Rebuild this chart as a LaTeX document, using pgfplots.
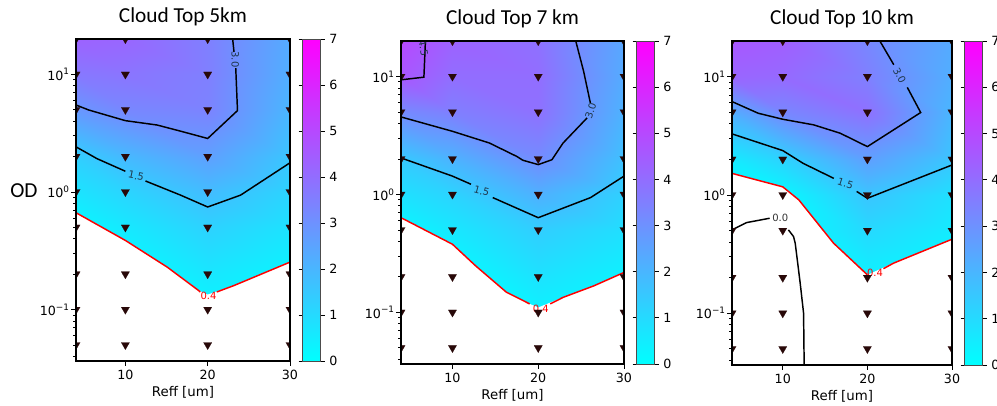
\documentclass[border=0pt]{standalone}
\usepackage{fontspec}
\setmainfont{DejaVu Sans}
\newfontfamily\carlito{Carlito}
\usepackage{pgfplots}
\usepackage{pgfplotstable}
\pgfplotsset{compat=1.18}

\definecolor{mk}{RGB}{40,8,8}
\definecolor{lbl}{RGB}{30,55,75}

\pgfplotstableread{
x y v
4 0.0365 0
10 0.0365 0
20 0.0365 0
30 0.0365 0
4 0.05 0
10 0.05 0
20 0.05 0
30 0.05 0
4 0.1 0
10 0.1 0
20 0.1 0.21
30 0.1 0
4 0.2 0
10 0.2 0
20 0.2 0.66
30 0.2 0.27
4 0.5 0.16
10 0.5 0.61
20 0.5 1.25
30 0.5 0.79
4 1 0.75
10 1 1.16
20 1 1.83
30 1 1.18
4 2 1.34
10 2 1.91
20 2 2.6
30 2 1.57
4 5 2.83
10 5 3.28
20 5 3.4
30 5 2.0
4 10 3.7
10 10 3.8
20 10 3.5
30 10 2.2
4 20 4.3
10 20 4.2
20 20 3.5
30 20 2.3
}\gridA

\pgfplotstableread{
x y v
4 0.0365 0
10 0.0365 0
20 0.0365 0
30 0.0365 0
4 0.05 0
10 0.05 0
20 0.05 0
30 0.05 0
4 0.1 0
10 0.1 0
20 0.1 0.34
30 0.1 0
4 0.2 0
10 0.2 0
20 0.2 0.78
30 0.2 0.35
4 0.5 0.17
10 0.5 0.63
20 0.5 1.35
30 0.5 0.89
4 1 0.83
10 1 1.2
20 1 2.16
30 1 1.29
4 2 1.48
10 2 2.08
20 2 3.16
30 2 1.7
4 5 3.2
10 5 3.5
20 5 3.9
30 5 2.1
4 10 4.63
10 10 4.0
20 10 4.0
30 10 2.3
4 20 5.0
10 20 4.3
20 20 3.9
30 20 2.4
}\gridB

\pgfplotstableread{
x y v
4 0.0365 0
10 0.0365 0
20 0.0365 0
30 0.0365 0
4 0.05 0
10 0.05 0
20 0.05 0
30 0.05 0
4 0.1 0
10 0.1 0
20 0.1 0.1
30 0.1 0
4 0.2 0
10 0.2 0
20 0.2 0.36
30 0.2 0
4 0.5 0
10 0.5 0
20 0.5 1.04
30 0.5 0.53
4 1 0.1
10 1 0.19
20 1 1.6
30 1 0.85
4 2 0.59
10 2 1.23
20 2 2.63
30 2 1.58
4 5 2.28
10 5 3.3
20 5 3.9
30 5 2.0
4 10 4.2
10 10 4.1
20 10 3.5
30 10 2.2
4 20 4.6
10 20 4.4
20 20 3.3
30 20 2.3
}\gridC

\pgfplotstableread{
x y
4 0.05
10 0.05
20 0.05
30 0.05
4 0.1
10 0.1
20 0.1
30 0.1
4 0.2
10 0.2
20 0.2
30 0.2
4 0.5
10 0.5
20 0.5
30 0.5
4 1
10 1
20 1
30 1
4 2
10 2
20 2
30 2
4 5
10 5
20 5
30 5
4 10
10 10
20 10
30 10
4 20
10 20
20 20
30 20
}\marks

\pgfplotsset{
  /pgf/number format/assume math mode=true,
  colormap={mycool}{rgb=(0,1,1) rgb=(1,0,1)},
}
\tikzset{
  cline/.style={black, line width=1.1pt},
  rline/.style={red, line width=1.1pt},
  clabel/.style={font=\fontsize{7.5}{9}\selectfont, text=lbl, inner sep=0pt},
}

\begin{document}
\begin{tikzpicture}

% ---------------- Panel 1 ----------------
\begin{axis}[at={(57pt,275.25pt)}, width=160.5pt, height=241.5pt, title={Cloud Top 5km},
    anchor=north west, scale only axis,
    xmin=4, xmax=30, ymin=0.0365, ymax=20, ymode=log,
    xtick={10,20,30}, ytick={0.1,1,10},
    yticklabels={10\textsuperscript{−1},10\textsuperscript{0},10\textsuperscript{1}},
    minor ytick={0.04,0.05,0.06,0.07,0.08,0.09,0.2,0.3,0.4,0.5,0.6,0.7,0.8,0.9,2,3,4,5,6,7,8,9},
    tick align=outside, tick pos=left,
    major tick length=3.5pt, minor tick length=2pt,
    every tick/.style={black, line width=0.6pt},
    axis line style={line width=1.2pt},
    axis on top,
    tick label style={font=\fontsize{9.5}{11}\selectfont},
    yticklabel style={inner sep=1pt},
    xlabel={Reff [um]},
    xlabel style={font=\fontsize{10}{12}\selectfont, at={(axis description cs:0.5,0)}, anchor=base, yshift=-27pt},
    title style={font=\carlito\fontsize{16}{19}\selectfont, at={(axis description cs:0.5,1)}, anchor=base, yshift=6pt},
    colormap name=mycool,
    colorbar, point meta min=0, point meta max=7,
    colorbar style={at={(parent axis.north east)}, anchor=north west, xshift=1pt, width=13.5pt,
      ytick={0,1,...,7}, tick align=outside, major tick length=3pt,
      yticklabel style={font=\fontsize{9.5}{11}\selectfont},
      axis line style={line width=0.5pt, draw=black!70}},
    clip marker paths=true]
\addplot[surf, shader=interp, mesh/cols=4, point meta=explicit] table[x=x, y=y, meta=v] {\gridA};
\addplot[fill=white, draw=none] coordinates {(4,0.666) (10,0.387) (15.1,0.229) (18.9,0.145) (20,0.134) (23.2,0.160) (30,0.253) (30,0.01) (4,0.01) (4,0.666)};
\addplot[cline] coordinates {(4,5.49) (5.54,4.98) (10,4.04) (13.85,3.71) (16.7,3.29) (20,2.85) (23.62,4.92) (23.41,11.3)};
\addplot[cline] coordinates {(23.2,15.5) (23.0,21)};
\addplot[cline] coordinates {(4,2.42) (6.55,1.92) (10,1.5)};
\addplot[cline] coordinates {(12.44,1.24) (16.7,0.94) (20,0.745) (24,0.94) (30,1.77)};
\addplot[rline] coordinates {(4,0.666) (10,0.387) (15.1,0.229) (18.9,0.145) (19.1,0.141)};
\addplot[rline] coordinates {(21.1,0.141) (23.2,0.160) (30,0.253)};
\node[clabel, rotate=-90] at (axis cs:23.35,13.4) {3.0};
\node[clabel, rotate=-12] at (axis cs:11.3,1.37) {1.5};
\node[clabel, text=red] at (axis cs:20.1,0.131) {0.4};
\addplot[only marks, mark=triangle*, mark size=3.6pt, mark options={rotate=180, fill=mk, draw=mk, line width=0.1pt}] table[x=x, y=y] {\marks};
\end{axis}

% ---------------- Panel 2 ----------------
\begin{axis}[at={(300.75pt,273.75pt)}, width=167.25pt, height=242.25pt, title={Cloud Top 7 km},
    anchor=north west, scale only axis,
    xmin=4, xmax=30, ymin=0.0365, ymax=20, ymode=log,
    xtick={10,20,30}, ytick={0.1,1,10},
    yticklabels={10\textsuperscript{−1},10\textsuperscript{0},10\textsuperscript{1}},
    minor ytick={0.04,0.05,0.06,0.07,0.08,0.09,0.2,0.3,0.4,0.5,0.6,0.7,0.8,0.9,2,3,4,5,6,7,8,9},
    tick align=outside, tick pos=left,
    major tick length=3.5pt, minor tick length=2pt,
    every tick/.style={black, line width=0.6pt},
    axis line style={line width=1.2pt},
    axis on top,
    tick label style={font=\fontsize{9.5}{11}\selectfont},
    yticklabel style={inner sep=1pt},
    xlabel={Reff [um]},
    xlabel style={font=\fontsize{10}{12}\selectfont, at={(axis description cs:0.5,0)}, anchor=base, yshift=-27pt},
    title style={font=\carlito\fontsize{16}{19}\selectfont, at={(axis description cs:0.5,1)}, anchor=base, yshift=6pt},
    colormap name=mycool,
    colorbar, point meta min=0, point meta max=7,
    colorbar style={at={(parent axis.north east)}, anchor=north west, xshift=1pt, width=13.5pt,
      ytick={0,1,...,7}, tick align=outside, major tick length=3pt,
      yticklabel style={font=\fontsize{9.5}{11}\selectfont},
      axis line style={line width=0.5pt, draw=black!70}},
    clip marker paths=true]
\addplot[surf, shader=interp, mesh/cols=4, point meta=explicit] table[x=x, y=y, meta=v] {\gridB};
\addplot[fill=white, draw=none] coordinates {(4,0.635) (10,0.378) (12.7,0.248) (16.3,0.148) (19.0,0.118) (20,0.110) (22.9,0.134) (26.5,0.168) (30,0.218) (30,0.01) (4,0.01) (4,0.635)};
\addplot[cline] coordinates {(4,9.37) (6.67,9.87) (6.86,21)};
\addplot[cline] coordinates {(4,4.54) (10,3.43) (14.3,2.73) (17.5,2.1) (18.2,1.95) (20,1.79) (21.6,1.97) (22.9,2.73) (25.69,4.45)};
\addplot[cline] coordinates {(26.08,5.96) (25.3,11.0) (24.3,21)};
\addplot[cline] coordinates {(4,2.04) (10,1.43) (12.16,1.22)};
\addplot[cline] coordinates {(14.7,0.94) (20,0.635) (26.1,0.94) (30,1.43)};
\addplot[rline] coordinates {(4,0.635) (10,0.378) (12.7,0.248) (16.3,0.148) (19.0,0.118)};
\addplot[rline] coordinates {(21.4,0.118) (22.9,0.134) (26.5,0.168) (30,0.218)};
\node[clabel, rotate=72] at (axis cs:26.1,5.1) {3.0};
\node[clabel, rotate=-15] at (axis cs:13.4,1.07) {1.5};
\node[clabel, text=red] at (axis cs:20.3,0.107) {0.4};
\node[clabel, rotate=-80] at (axis cs:6.6,17.5) {4.5};
\addplot[only marks, mark=triangle*, mark size=3.6pt, mark options={rotate=180, fill=mk, draw=mk, line width=0.1pt}] table[x=x, y=y] {\marks};
\end{axis}

% ---------------- Panel 3 ----------------
\begin{axis}[at={(549pt,273.75pt)}, width=165pt, height=243pt, title={Cloud Top 10 km},
    anchor=north west, scale only axis,
    xmin=4, xmax=30, ymin=0.0365, ymax=20, ymode=log,
    xtick={10,20,30}, ytick={0.1,1,10},
    yticklabels={10\textsuperscript{−1},10\textsuperscript{0},10\textsuperscript{1}},
    minor ytick={0.04,0.05,0.06,0.07,0.08,0.09,0.2,0.3,0.4,0.5,0.6,0.7,0.8,0.9,2,3,4,5,6,7,8,9},
    tick align=outside, tick pos=left,
    major tick length=3.5pt, minor tick length=2pt,
    every tick/.style={black, line width=0.6pt},
    axis line style={line width=1.2pt},
    axis on top,
    tick label style={font=\fontsize{9.5}{11}\selectfont},
    yticklabel style={inner sep=1pt},
    xlabel={Reff [um]},
    xlabel style={font=\fontsize{10}{12}\selectfont, at={(axis description cs:0.5,0)}, anchor=base, yshift=-27pt},
    title style={font=\carlito\fontsize{16}{19}\selectfont, at={(axis description cs:0.5,1)}, anchor=base, yshift=6pt},
    colormap name=mycool,
    colorbar, point meta min=0, point meta max=7,
    colorbar style={at={(parent axis.north east)}, anchor=north west, xshift=1pt, width=13.5pt,
      ytick={0,1,...,7}, tick align=outside, major tick length=3pt,
      yticklabel style={font=\fontsize{9.5}{11}\selectfont},
      axis line style={line width=0.5pt, draw=black!70}},
    clip marker paths=true]
\addplot[surf, shader=interp, mesh/cols=4, point meta=explicit] table[x=x, y=y, meta=v] {\gridC};
\addplot[fill=white, draw=none] coordinates {(4,1.52) (10,1.17) (11.9,0.907) (16,0.391) (20,0.211) (23.1,0.265) (30,0.422) (30,0.01) (4,0.01) (4,1.52)};
\addplot[cline] coordinates {(4,6.15) (7.1,4.9) (10,4.36) (13.65,3.91) (16.8,3.32) (20,2.56) (26.3,4.97) (24.72,8.1)};
\addplot[cline] coordinates {(23.12,12.6) (21.3,21)};
\addplot[cline] coordinates {(4,3.28) (10,2.37) (12.4,1.85) (16.03,1.38)};
\addplot[cline] coordinates {(18.73,1.07) (20,0.937) (30,1.79)};
\addplot[cline] coordinates {(4,0.506) (5.7,0.583) (8.45,0.635)};
\addplot[cline] coordinates {(10.67,0.506) (11.27,0.445) (11.47,0.391) (12.06,0.179) (12.46,0.1) (12.54,0.03)};
\addplot[rline] coordinates {(4,1.52) (10,1.17) (11.9,0.907) (16,0.391) (20,0.211)};
\addplot[rline] coordinates {(21.9,0.238) (23.1,0.265) (30,0.422)};
\node[clabel, rotate=-62] at (axis cs:23.8,10.2) {3.0};
\node[clabel, rotate=-18] at (axis cs:17.4,1.24) {1.5};
\node[clabel, text=red] at (axis cs:20.9,0.218) {0.4};
\node[clabel, text=black!80] at (axis cs:9.7,0.64) {0.0};
\addplot[only marks, mark=triangle*, mark size=3.6pt, mark options={rotate=180, fill=mk, draw=mk, line width=0.1pt}] table[x=x, y=y] {\marks};
\end{axis}

\node[font=\carlito\fontsize{16}{19}\selectfont, anchor=base west, inner sep=0pt] at (7.5pt,156.2pt) {OD};

\pgfresetboundingbox
\path (0,0) rectangle (747.75pt,304.5pt);
\end{tikzpicture}
\end{document}
